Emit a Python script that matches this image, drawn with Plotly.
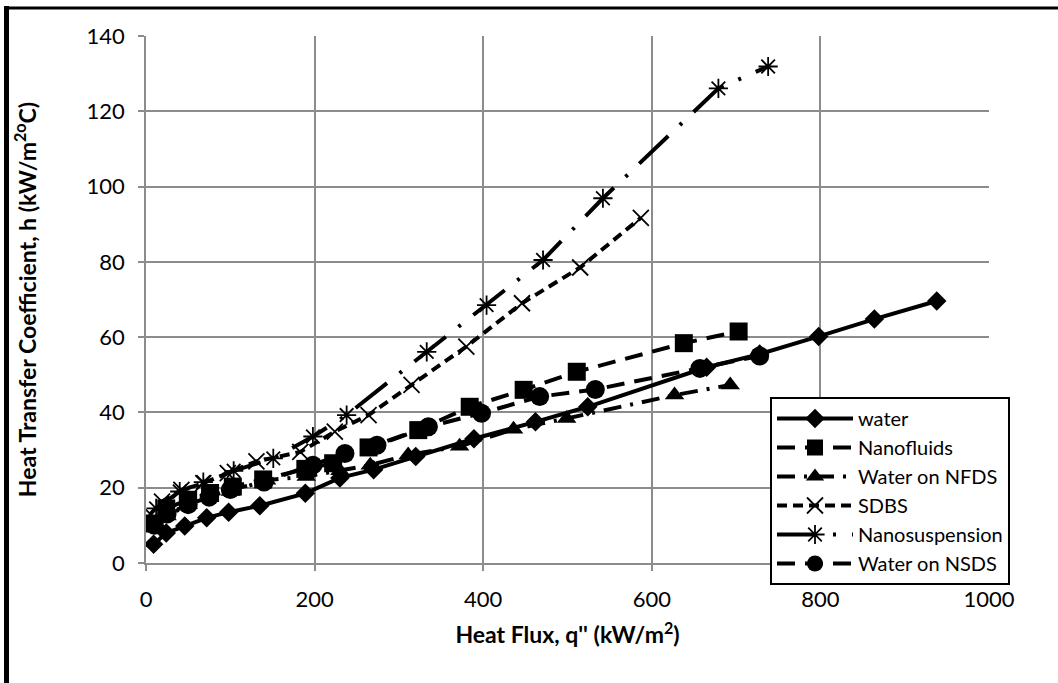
import plotly.graph_objects as go

# ---- data ----
water_q = [9, 24, 46, 72, 98, 135, 189, 230, 270, 320, 389, 462, 524, 665, 728, 798, 864, 938]
water_h = [5.0, 8.0, 9.8, 12.0, 13.5, 15.2, 18.5, 22.6, 24.8, 28.3, 33.0, 37.5, 41.5, 52.0, 55.5, 60.2, 64.8, 69.6]

nanofluid_q = [8, 24, 50, 76, 103, 139, 189, 222, 264, 323, 384, 448, 511, 638, 703]
nanofluid_h = [10.5, 14.5, 16.8, 18.6, 20.3, 22.2, 25.0, 26.5, 30.7, 35.3, 41.5, 46.0, 50.8, 58.4, 61.5]

nfds_q = [10, 25, 50, 75, 100, 143, 190, 230, 266, 311, 372, 436, 499, 627, 693]
nfds_h = [9.5, 12.5, 15.5, 17.5, 19.0, 22.0, 23.0, 24.5, 26.0, 28.7, 31.0, 35.5, 38.4, 44.6, 47.3]

sdbs_q = [5, 19, 42, 68, 97, 131, 183, 224, 264, 315, 380, 446, 515, 587]
sdbs_h = [13.0, 16.3, 19.4, 21.2, 23.9, 27.0, 29.5, 34.9, 39.3, 47.3, 57.5, 69.0, 78.5, 91.7]

nano_q = [12, 40, 68, 104, 151, 198, 238, 333, 404, 471, 542, 679, 738]
nano_h = [14.5, 19.0, 21.5, 24.5, 27.8, 33.6, 39.3, 56.1, 68.5, 80.5, 96.9, 126.1, 131.9]

nsds_q = [10, 25, 50, 75, 100, 140, 198, 236, 274, 335, 398, 467, 533, 657, 728]
nsds_h = [10.0, 13.0, 15.5, 17.5, 19.5, 21.5, 26.0, 29.1, 31.3, 36.2, 39.8, 44.2, 46.1, 51.7, 55.0]

x_ticks = [0, 200, 400, 600, 800, 1000]
y_ticks = [0, 20, 40, 60, 80, 100, 120, 140]

FONT = "Lato, 'DejaVu Sans', sans-serif"
LW = 4

series = [
    ("water", water_q, water_h, "solid", dict(symbol="diamond", size=15)),
    ("Nanofluids", nanofluid_q, nanofluid_h, "18px,10px", dict(symbol="square", size=18)),
    ("Water on NFDS", nfds_q, nfds_h, "18px,9px,3px,9px", dict(symbol="triangle-up", size=17)),
    ("SDBS", sdbs_q, sdbs_h, "10px,6px", dict(symbol="x-thin-open", size=16, line=dict(width=1.8, color="black"))),
    ("Nanosuspension", nano_q, nano_h, "40px,16px,3px,16px", dict(symbol="asterisk-open", size=16, line=dict(width=1.8, color="black"))),
    ("Water on NSDS", nsds_q, nsds_h, "18px,10px", dict(symbol="circle", size=19)),
]

fig = go.Figure()
for name, xs, ys, dash, mk in series:
    mk = dict(mk)
    mk.setdefault("color", "black")
    fig.add_trace(go.Scatter(
        x=xs, y=ys, name=name, mode="lines+markers",
        line=dict(color="black", width=LW, dash=dash),
        marker=mk,
    ))

grid = "#8c8c8c"
fig.update_xaxes(
    range=[0, 1000], tickvals=x_ticks, showgrid=True, gridcolor=grid, gridwidth=1.5,
    showline=True, linecolor=grid, linewidth=1.5, zeroline=False,
    ticks="outside", ticklen=6, tickcolor=grid, tickwidth=1.5,
    ticklabelstandoff=10,
    tickfont=dict(family=FONT, size=22, color="black"),
    title=dict(text="<b>Heat Flux, q'' (kW/m<sup>2</sup>)</b>", font=dict(family=FONT, size=23, color="black"), standoff=16),
)
fig.update_yaxes(
    range=[0, 140], tickvals=y_ticks, showgrid=True, gridcolor=grid, gridwidth=1.5,
    showline=True, linecolor=grid, linewidth=1.5, zeroline=False,
    ticks="outside", ticklen=6, tickcolor=grid, tickwidth=1.5,
    ticklabelstandoff=9,
    tickfont=dict(family=FONT, size=22, color="black"),
    title=dict(text="<b>Heat Transfer Coefficient, h (kW/m<sup>2o</sup>C)</b>", font=dict(family=FONT, size=23, color="black"), standoff=44),
)

W, H = 1058, 683
L, R, T, B = 146, 69, 36, 120
pw, ph = W - L - R, H - T - B

def px(xp):
    return (xp - L) / pw

def py(yp):
    return (H - B - yp) / ph

fig.update_layout(
    width=W, height=H,
    margin=dict(l=L, r=R, t=T, b=B, autoexpand=False),
    paper_bgcolor="white", plot_bgcolor="white",
    font=dict(family=FONT, color="black"),
    legend=dict(
        x=px(770), y=py(397), xanchor="left", yanchor="top",
        bgcolor="white", bordercolor="black", borderwidth=2,
        font=dict(family=FONT, size=20, color="black"),
        itemwidth=76, tracegroupgap=0,
    ),
    showlegend=True,
    shapes=[
        dict(type="line", xref="paper", yref="paper", x0=px(6.5), x1=px(6.5), y0=py(6), y1=py(700),
             line=dict(color="black", width=5)),
        dict(type="line", xref="paper", yref="paper", x0=px(4), x1=px(1070), y0=py(8), y1=py(8),
             line=dict(color="black", width=3)),
    ],
)

fig.write_html(
    "out.html",
    config={"displayModeBar": False},
    post_script="document.body.style.margin='0';document.body.style.overflow='hidden';",
)
